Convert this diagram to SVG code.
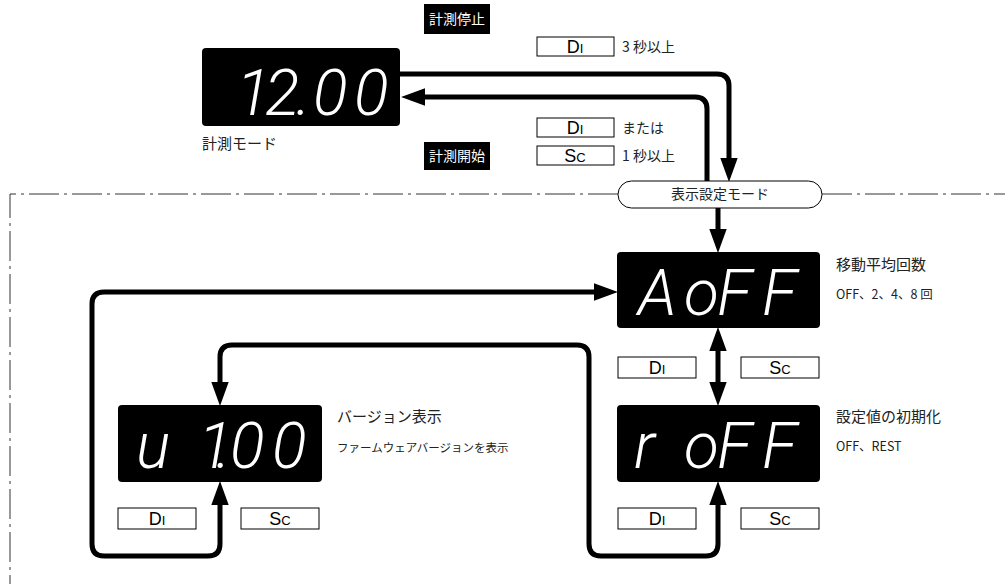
<svg xmlns="http://www.w3.org/2000/svg" width="1005" height="584" viewBox="0 0 1005 584">
<style>
.jp{font-family:"Noto Sans CJK JP","Noto Sans",sans-serif;fill:#222}
.lbl{font-size:15px}
.sub{font-size:12.5px}
.sub2{font-size:11.5px}
.tag{font-family:"Noto Sans CJK JP",sans-serif;font-size:14px;fill:#fff}
.disp{fill:#000}
.seg{font-family:Roboto,"Liberation Sans",sans-serif;font-weight:300;font-style:italic;font-size:64px;fill:#fff}
.key{fill:#fff;stroke:#000;stroke-width:1}
.kt{font-family:"Liberation Sans",Arial,sans-serif;font-size:18px;fill:#000;text-anchor:middle}
.ks{font-size:13px}
.conn{fill:none;stroke:#000;stroke-width:5}
.bound{fill:none;stroke:#333;stroke-width:1;stroke-dasharray:30 5 3 5}
</style>
<defs>
<marker id="ah" markerUnits="userSpaceOnUse" markerWidth="24" markerHeight="18" viewBox="0 0 22 16" refX="12" refY="8" orient="auto-start-reverse">
<path d="M0,0 L22,8 L0,16 z" fill="#000"/>
</marker>
</defs>

<g id="boundary">
<path class="bound" d="M618,194 H10 V584"/>
<path class="bound" d="M822,194 H1005"/>
</g>

<g id="connectors">
<path class="conn" d="M400,74 H717 Q729,74 729,86 V171" marker-end="url(#ah)"/>
<path class="conn" d="M707,181 V109 Q707,97 695,97 H412" marker-end="url(#ah)"/>
<path class="conn" d="M718,208 V242" marker-end="url(#ah)"/>
<path class="conn" d="M718,338 V395" marker-start="url(#ah)" marker-end="url(#ah)"/>
<path class="conn" d="M220,492 V544 Q220,556 208,556 H104 Q92,556 92,544 V304 Q92,292 104,292 H607" marker-start="url(#ah)" marker-end="url(#ah)"/>
<path class="conn" d="M718,492 V544 Q718,556 706,556 H601 Q589,556 589,544 V357 Q589,345 577,345 H232 Q220,345 220,357 V395" marker-start="url(#ah)" marker-end="url(#ah)"/>
</g>

<g id="tag-stop">
<rect x="424" y="4" width="66" height="30" fill="#000"/>
<text class="tag" x="457" y="24" text-anchor="middle">計測停止</text>
</g>
<g id="tag-start">
<rect x="424" y="142" width="66" height="28" fill="#000"/>
<text class="tag" x="457" y="161" text-anchor="middle">計測開始</text>
</g>

<g id="key-top-di">
<rect class="key" x="537" y="37" width="77" height="19"/>
<text class="kt" x="575" y="53">D<tspan class="ks">I</tspan></text>
<text class="jp" x="622" y="52" font-size="14">3 秒以上</text>
</g>
<g id="key-mid-di">
<rect class="key" x="537" y="118" width="77" height="19"/>
<text class="kt" x="575" y="134">D<tspan class="ks">I</tspan></text>
<text class="jp" x="622" y="133" font-size="14">または</text>
</g>
<g id="key-mid-sc">
<rect class="key" x="537" y="146" width="77" height="19"/>
<text class="kt" x="575" y="162">S<tspan class="ks">C</tspan></text>
<text class="jp" x="622" y="161" font-size="14">1 秒以上</text>
</g>

<g id="node-measure">
<rect class="disp" x="202" y="48" width="198" height="78" rx="4"/>
<text class="seg" x="236 265 296 313 354" y="115">12.00</text>
<text class="jp lbl" x="202" y="149">計測モード</text>
</g>

<g id="node-mode">
<rect x="618" y="181" width="204" height="27" rx="13.5" fill="#fff" stroke="#000" stroke-width="1"/>
<text class="jp" x="720" y="199" font-size="14" text-anchor="middle">表示設定モード</text>
</g>

<g id="node-aoff">
<rect class="disp" x="617" y="252" width="203" height="76" rx="4"/>
<text class="seg" x="638 684 717 762" y="315">AoFF</text>
<text class="jp lbl" x="836" y="270">移動平均回数</text>
<text class="jp sub" x="836" y="299">OFF、2、4、8 回</text>
</g>

<g id="keys-aoff">
<rect class="key" x="618" y="357" width="78" height="21"/>
<text class="kt" x="657" y="374">D<tspan class="ks">I</tspan></text>
<rect class="key" x="741" y="357" width="78" height="21"/>
<text class="kt" x="780" y="374">S<tspan class="ks">C</tspan></text>
</g>

<g id="node-roff">
<rect class="disp" x="617" y="405" width="203" height="77" rx="4"/>
<text class="seg" x="634 684 717 762" y="468">roFF</text>
<text class="jp lbl" x="836" y="422">設定値の初期化</text>
<text class="jp sub" x="836" y="451">OFF、REST</text>
</g>

<g id="keys-roff">
<rect class="key" x="618" y="508" width="78" height="21"/>
<text class="kt" x="657" y="525">D<tspan class="ks">I</tspan></text>
<rect class="key" x="741" y="508" width="78" height="21"/>
<text class="kt" x="780" y="525">S<tspan class="ks">C</tspan></text>
</g>

<g id="node-version">
<rect class="disp" x="118" y="405" width="204" height="77" rx="4"/>
<text class="seg" x="136 170 198 216 230 272" y="468">u 1.00</text>
<text class="jp lbl" x="337" y="422">バージョン表示</text>
<text class="jp sub2" x="337" y="452">ファームウェアバージョンを表示</text>
</g>

<g id="keys-version">
<rect class="key" x="118" y="508" width="78" height="21"/>
<text class="kt" x="157" y="525">D<tspan class="ks">I</tspan></text>
<rect class="key" x="241" y="508" width="78" height="21"/>
<text class="kt" x="280" y="525">S<tspan class="ks">C</tspan></text>
</g>
</svg>
